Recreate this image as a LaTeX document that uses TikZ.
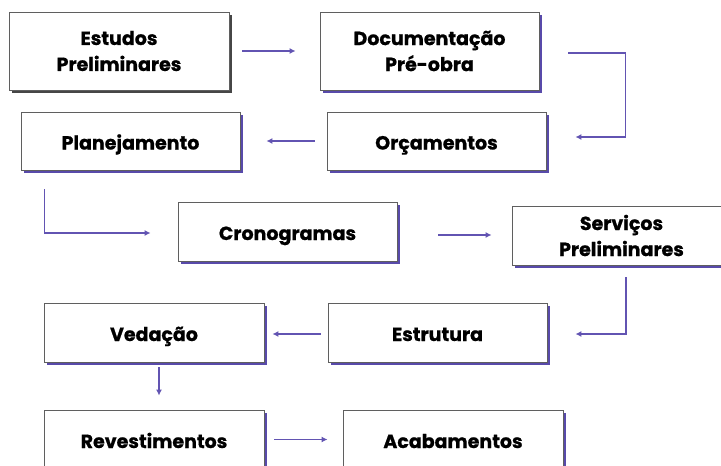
\documentclass[tikz,border=0pt]{standalone}
\usepackage{fontspec}
\setmainfont{Poppins}[UprightFont=* Bold, UprightFeatures={FakeBold=0.8}]
\usetikzlibrary{arrows.meta,shadows}
\definecolor{linec}{RGB}{98,84,178}
\definecolor{shpurple}{RGB}{88,74,170}
\definecolor{shgray}{RGB}{70,70,70}
\definecolor{bordc}{RGB}{95,95,95}
\tikzset{
  box/.style={draw=bordc, line width=0.9pt, fill=white, align=center,
    minimum width=219pt, inner sep=0pt, font=\fontsize{19}{26}\selectfont,
    general shadow={fill=shpurple, shadow xshift=3pt, shadow yshift=-3pt}},
  onebox/.style={box, text height=19pt, text depth=2pt},
  graybox/.style={box, general shadow={fill=shgray, shadow xshift=3pt, shadow yshift=-3pt}},
  arr/.style={draw=linec, line width=1.4pt, -{Latex[length=6pt,width=6pt]}}
}
\begin{document}
\begin{tikzpicture}[x=1pt,y=-1pt]
\useasboundingbox (0,0) rectangle (721,466);
\fill[white] (0,0) rectangle (721,466);
\node[graybox, minimum width=220pt, minimum height=78pt] (A) at (119,51) {Estudos\\Preliminares};
\node[box, minimum height=78pt] (B) at (429.5,51) {Documentação\\Pré-obra};
\node[onebox, minimum height=58pt] (C) at (130.5,141) {Planejamento};
\node[onebox, minimum height=58pt] (D) at (436.5,141) {Orçamentos};
\node[onebox, minimum height=59pt] (E) at (287.5,231.5) {Cronogramas};
\node[box, minimum height=59pt] (F) at (621.5,235.5) {Serviços\\Preliminares};
\node[onebox, minimum height=59pt] (G) at (437.5,332.5) {Estrutura};
\node[onebox, minimum width=220pt, minimum height=59pt] (H) at (154,332.5) {Vedação};
\node[onebox, minimum width=220pt, minimum height=59pt] (I) at (154,439.5) {Revestimentos};
\node[onebox, minimum width=220pt, minimum height=59pt] (J) at (453,439.5) {Acabamentos};
\draw[arr, shorten <=13pt, shorten >=24pt] (A.east) -- (B.west);
\draw[arr, shorten <=12pt, shorten >=26pt] (D.west) -- (C.east);
\draw[arr] ([xshift=29pt,yshift=-2pt]B.east) -- ++(57,0) |- ([xshift=29pt,yshift=4pt]D.east);
\draw[arr] ([xshift=24pt,yshift=-19pt]C.south west) |- ([xshift=-27pt,yshift=-1.5pt]E.west);
\draw[arr] ([xshift=41pt,yshift=-3.5pt]E.east) -- ([xshift=-20pt,yshift=0.5pt]F.west);
\draw[arr] ([xshift=4.5pt,yshift=-12pt]F.south) |- ([xshift=28pt,yshift=-1.5pt]G.east);
\draw[arr, shorten <=7pt, shorten >=8pt] ([yshift=-1.5pt]G.west) -- ([yshift=-1.5pt]H.east);
\draw[arr] ([xshift=5pt,yshift=-5pt]H.south) -- ([xshift=5pt,yshift=14pt]I.north);
\draw[arr, shorten <=10pt, shorten >=15pt] (I.east) -- (J.west);
\end{tikzpicture}
\end{document}
